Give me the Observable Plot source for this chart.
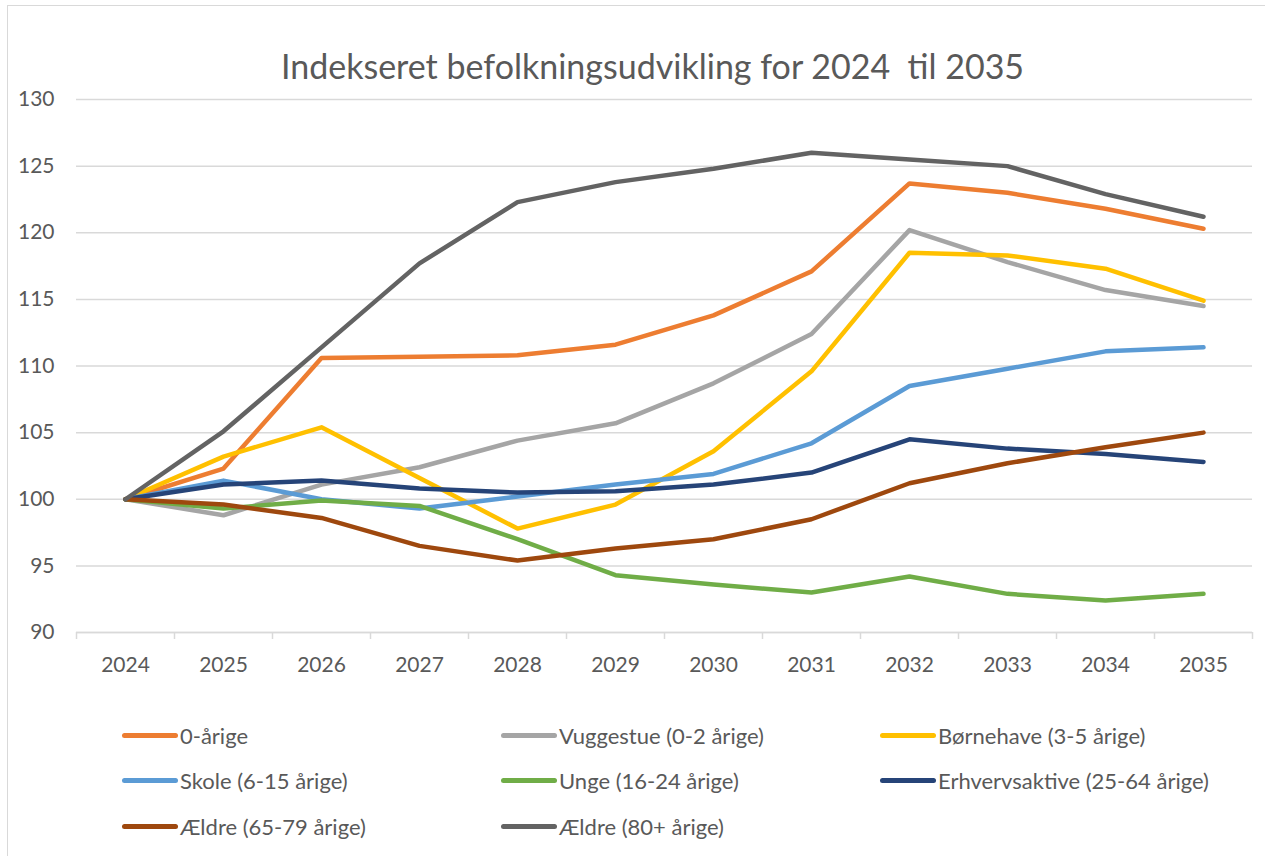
<!DOCTYPE html>
<html>
<head>
<meta charset="utf-8">
<script src="https://cdn.jsdelivr.net/npm/d3@7"></script>
<script src="https://cdn.jsdelivr.net/npm/@observablehq/plot@0.6"></script>
<style>
  html, body { margin: 0; padding: 0; background: #fff; overflow: hidden; }
  body { width: 1265px; height: 856px; position: relative; font-family: Lato, "Open Sans", sans-serif; color: #595959; }
  #frame { position: absolute; left: 7px; top: 5px; width: 1300px; height: 900px; border-left: 1.5px solid #d9d9d9; border-top: 1.5px solid #d9d9d9; }
  #title { position: absolute; left: 0; width: 1305px; top: 49px; text-align: center; font-size: 34px; line-height: 1; color: #595959; white-space: pre; }
  #chart { position: absolute; left: 0; top: 80px; }
  .leg { position: absolute; display: flex; align-items: center; font-size: 22px; color: #595959; white-space: pre; }
  .sw { display: inline-block; width: 56px; height: 5px; border-radius: 3px; margin-right: 2px; }
</style>
</head>
<body>
<div id="frame"></div>
<div id="title"></div>
<div id="chart"></div>
<div id="legend"></div>
<script>
const title = "Indekseret befolkningsudvikling for 2024  til 2035";
const years = [2024, 2025, 2026, 2027, 2028, 2029, 2030, 2031, 2032, 2033, 2034, 2035];
const yTicks = [90, 95, 100, 105, 110, 115, 120, 125, 130];

const seriesNames = [
  "0-årige",
  "Vuggestue (0-2 årige)",
  "Børnehave (3-5 årige)",
  "Skole (6-15 årige)",
  "Unge (16-24 årige)",
  "Erhvervsaktive (25-64 årige)",
  "Ældre (65-79 årige)",
  "Ældre (80+ årige)"
];
const seriesColors = ["#ED7D31", "#A5A5A5", "#FFC000", "#5B9BD5", "#70AD47", "#264478", "#9E480E", "#636363"];

const aarige0      = [100, 102.3, 110.6, 110.7, 110.8, 111.6, 113.8, 117.1, 123.7, 123.0, 121.8, 120.3];
const vuggestue    = [100, 98.8, 101.1, 102.4, 104.4, 105.7, 108.7, 112.4, 120.2, 117.8, 115.7, 114.5];
const boernehave   = [100, 103.2, 105.4, 101.6, 97.8, 99.6, 103.6, 109.6, 118.5, 118.3, 117.3, 114.9];
const skole        = [100, 101.4, 100.0, 99.3, 100.2, 101.1, 101.9, 104.2, 108.5, 109.8, 111.1, 111.4];
const unge         = [100, 99.3, 99.9, 99.5, 97.0, 94.3, 93.6, 93.0, 94.2, 92.9, 92.4, 92.9];
const erhverv      = [100, 101.1, 101.4, 100.8, 100.5, 100.6, 101.1, 102.0, 104.5, 103.8, 103.4, 102.8];
const aeldre6579   = [100, 99.6, 98.6, 96.5, 95.4, 96.3, 97.0, 98.5, 101.2, 102.7, 103.9, 105.0];
const aeldre80     = [100, 105.1, 111.4, 117.7, 122.3, 123.8, 124.8, 126.0, 125.5, 125.0, 122.9, 121.2];

const seriesValues = [aarige0, vuggestue, boernehave, skole, unge, erhverv, aeldre6579, aeldre80];

document.getElementById("title").textContent = title;

const rows = [];
seriesNames.forEach((name, i) => {
  years.forEach((yr, j) => rows.push({series: name, year: yr, value: seriesValues[i][j]}));
});
const bounds = years.map(y => y - 0.5).concat([years[years.length - 1] + 0.5]);

const fontFam = "Lato, 'Open Sans', sans-serif";
const plot = Plot.plot({
  width: 1265,
  height: 610,
  marginLeft: 76,
  marginRight: 13,
  marginTop: 19,
  marginBottom: 58,
  style: {fontFamily: fontFam, fontSize: "21px", color: "#595959", background: "transparent", overflow: "visible"},
  x: {type: "linear", domain: [bounds[0], bounds[bounds.length - 1]]},
  y: {domain: [90, 130]},
  color: {domain: seriesNames, range: seriesColors},
  marks: [
    Plot.gridY(yTicks, {stroke: "#d9d9d9", strokeOpacity: 1, strokeWidth: 1.5}),
    Plot.axisY({ticks: yTicks, tickSize: 0, tickPadding: 22, label: null, fill: "#595959", fontSize: 21}),
    Plot.axisX({ticks: bounds, tickFormat: () => "", tickSize: 7, stroke: "#d9d9d9", strokeWidth: 1.5, strokeOpacity: 1, label: null}),
    Plot.axisX({ticks: years, tickFormat: d => String(d), tickSize: 0, tickPadding: 25, label: null, fill: "#595959", fontSize: 21}),
    Plot.ruleY([90], {stroke: "#d9d9d9", strokeWidth: 1.5}),
    Plot.line(rows, {x: "year", y: "value", z: "series", stroke: "series", strokeWidth: 4.5, strokeLinejoin: "round", strokeLinecap: "round"})
  ]
});
document.getElementById("chart").appendChild(plot);

// legend
const legend = document.getElementById("legend");
const colX = [122, 501, 880];
const rowY = [735, 780, 826];
seriesNames.forEach((name, i) => {
  const d = document.createElement("div");
  d.className = "leg";
  d.style.left = colX[i % 3] + "px";
  d.style.top = (rowY[Math.floor(i / 3)] - 15) + "px";
  d.style.height = "30px";
  const sw = document.createElement("span");
  sw.className = "sw";
  sw.style.background = seriesColors[i];
  d.appendChild(sw);
  const t = document.createElement("span");
  t.textContent = name;
  d.appendChild(t);
  legend.appendChild(d);
});
</script>
</body>
</html>
